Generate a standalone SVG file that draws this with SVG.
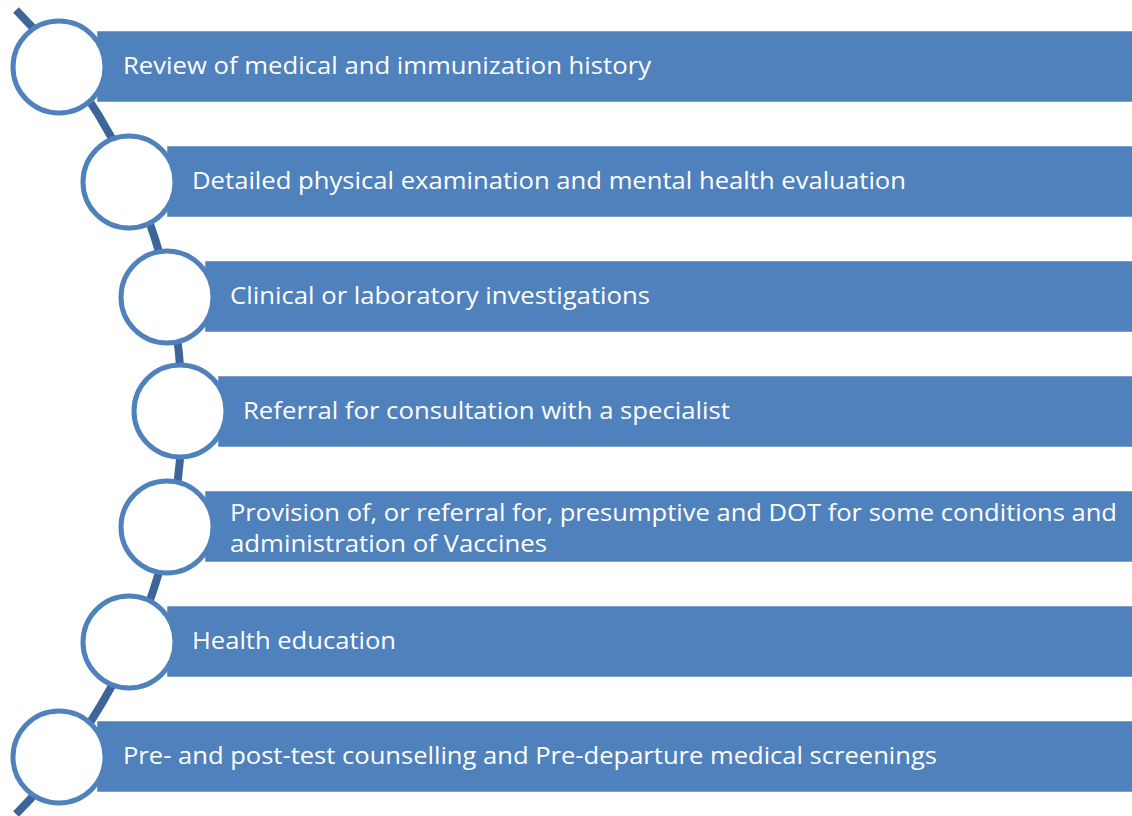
<svg xmlns="http://www.w3.org/2000/svg" width="1132" height="816" viewBox="0 0 1132 816">
  <defs>
    <style>
      .bar { fill: #4F81BD; stroke: #ffffff; stroke-width: 1; stroke-opacity: 0.5; }
      .ring { fill: #ffffff; stroke: #4F81BD; stroke-width: 5; }
      .label { font-family: "Open Sans", "Liberation Sans", sans-serif; font-size: 24px; fill: #ffffff; }
      .spine { fill: none; stroke: #3D6599; stroke-width: 8; stroke-linecap: butt; }
    </style>
  </defs>
  <rect width="1132" height="816" fill="#ffffff"/>

  <!-- curved spine linking the steps -->
  <g id="connectors">
    <path class="spine" d="M 16 10 A 570 570 0 0 1 16 814"/>
  </g>

  <g id="step1">
    <rect class="bar" x="97" y="31" width="1036" height="71"/>
    <circle class="ring" cx="59" cy="67" r="46"/>
    <text class="label" x="123" y="74" textLength="528" lengthAdjust="spacingAndGlyphs">Review of medical and immunization history</text>
  </g>

  <g id="step2">
    <rect class="bar" x="167" y="146" width="966" height="71"/>
    <circle class="ring" cx="129" cy="182" r="46"/>
    <text class="label" x="192" y="189" textLength="714" lengthAdjust="spacingAndGlyphs">Detailed physical examination and mental health evaluation</text>
  </g>

  <g id="step3">
    <rect class="bar" x="205" y="261" width="928" height="71"/>
    <circle class="ring" cx="167" cy="297" r="46"/>
    <text class="label" x="230" y="304" textLength="420" lengthAdjust="spacingAndGlyphs">Clinical or laboratory investigations</text>
  </g>

  <g id="step4">
    <rect class="bar" x="218" y="376" width="915" height="71"/>
    <circle class="ring" cx="180" cy="411" r="46"/>
    <text class="label" x="243" y="419" textLength="487" lengthAdjust="spacingAndGlyphs">Referral for consultation with a specialist</text>
  </g>

  <g id="step5">
    <rect class="bar" x="205" y="491" width="928" height="71"/>
    <circle class="ring" cx="167" cy="527" r="46"/>
    <text class="label" x="230" y="521" textLength="887" lengthAdjust="spacingAndGlyphs">Provision of, or referral for, presumptive and DOT for some conditions and</text>
    <text class="label" x="230" y="552" textLength="317" lengthAdjust="spacingAndGlyphs">administration of Vaccines</text>
  </g>

  <g id="step6">
    <rect class="bar" x="167" y="606" width="966" height="71"/>
    <circle class="ring" cx="129" cy="642" r="46"/>
    <text class="label" x="192" y="649" textLength="204" lengthAdjust="spacingAndGlyphs">Health education</text>
  </g>

  <g id="step7">
    <rect class="bar" x="97" y="721" width="1036" height="71"/>
    <circle class="ring" cx="59" cy="757" r="46"/>
    <text class="label" x="123" y="764" textLength="814" lengthAdjust="spacingAndGlyphs">Pre- and post-test counselling and Pre-departure medical screenings</text>
  </g>
</svg>
